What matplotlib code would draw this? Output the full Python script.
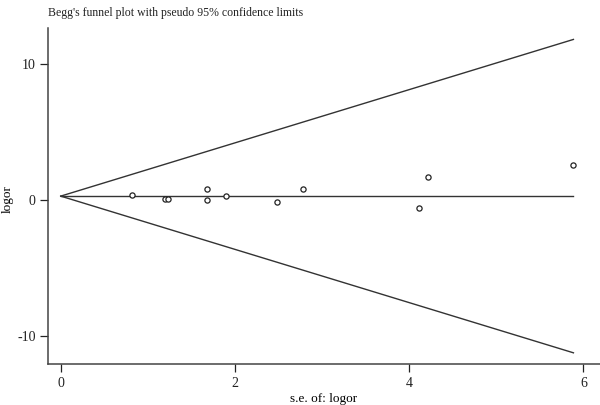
import matplotlib
matplotlib.use("Agg")
import matplotlib.pyplot as plt
import numpy as np

# Data
se = [0.815, 1.20, 1.235, 1.676, 1.676, 1.894, 2.48, 2.785, 4.117, 4.22, 5.885]
logor = [0.38, 0.10, 0.06, 0.85, -0.01, 0.29, -0.13, 0.80, -0.60, 1.69, 2.59]
pooled = 0.30
se_max = 5.885
xticks = [0, 2, 4, 6]
yticks = [-10, 0, 10]

plt.rcParams['font.family'] = ['Liberation Serif', 'DejaVu Serif']
plt.rcParams['axes.unicode_minus'] = False

fig = plt.figure(figsize=(6.0, 4.05), dpi=100)
ax = fig.add_axes([0.08, 0.1005, 0.92, 0.8305])

line_col = '#333333'
# funnel limits
xs = np.array([0, se_max])
ax.plot(xs, pooled + 1.96 * xs, color=line_col, lw=1.0)
ax.plot(xs, pooled - 1.96 * xs, color=line_col, lw=1.0)
ax.plot(xs, [pooled, pooled], color=line_col, lw=1.0)

ax.scatter(se, logor, s=14, facecolors='white', edgecolors='#222222',
           linewidths=0.9, marker='o', zorder=3)

ax.set_xlim(-0.146, 6.19)
ax.set_ylim(-12.08, 12.68)
ax.set_xticks(xticks)
ax.set_yticks(yticks)

for s in ['top', 'right']:
    ax.spines[s].set_visible(False)
for s in ['left', 'bottom']:
    ax.spines[s].set_color('#444444')
    ax.spines[s].set_linewidth(1.1)

ax.tick_params(direction='out', length=5.5, width=0.9, colors='#222222',
               labelsize=10)
ax.set_xlabel('s.e. of: logor', fontsize=9.5, labelpad=2)
ax.set_ylabel('logor', fontsize=9.5)
ax.yaxis.set_label_coords(-0.062, 0.49)

fig.text(0.08, 0.968, "Begg's funnel plot with pseudo 95% confidence limits",
         fontsize=8.5, ha='left', va='center', color='#222222')

fig.savefig('out.png', dpi=100)
